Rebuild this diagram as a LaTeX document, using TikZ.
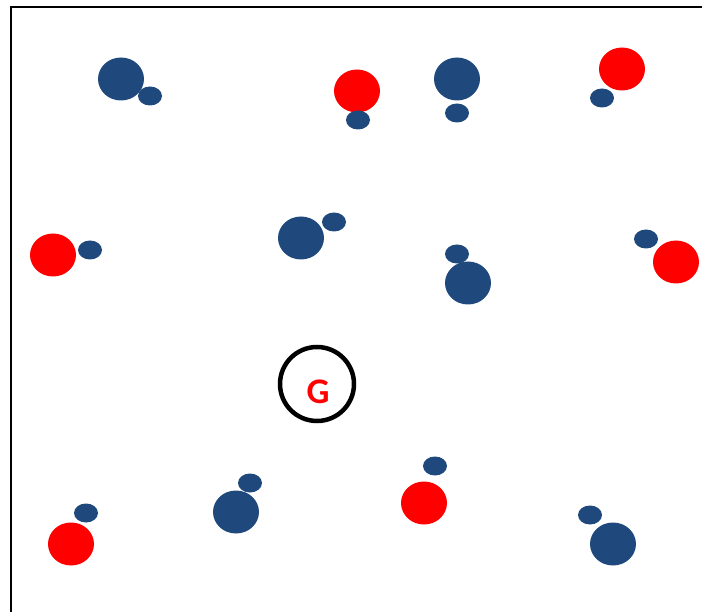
\documentclass[tikz,border=0pt]{standalone}
\usepackage{fontspec}
\newfontfamily\labelfont{Carlito}
\definecolor{pawn}{HTML}{1F497D}
\definecolor{target}{HTML}{FF0000}

\begin{document}
\begin{tikzpicture}[x=1pt,y=-1pt]
  \useasboundingbox (0,0) rectangle (702,612);
  % Frame
  \draw[line width=2.2pt] (11,620) -- (11,7) -- (710,7);
  % Blobs: colour/x/y of the big one, x/y of the small blue one
  \foreach \c/\x/\y/\u/\v in {pawn/121/79/150/96, target/357/91/358/120,
      pawn/457/79/457/113, target/622/69/602/98, target/53/255/90/250,
      pawn/301/238/334/222, pawn/468/283/457/254, target/676/262/646/239,
      target/71/544/86/513, pawn/236/512/250/483, target/424/503/435/466,
      pawn/613/544/590/515} {
    \fill[\c] (\x,\y) ellipse [x radius=23, y radius=21.5];
    \fill[pawn] (\u,\v) ellipse [x radius=12, y radius=9.5];
  }
  % Goal
  \node[draw, line width=4.5pt, circle, minimum size=74pt, inner sep=0pt] (goal) at (317,384) {};
  \node[text=target, inner sep=0pt, font=\labelfont\bfseries\fontsize{36}{36}\selectfont] (glabel) at (318,392) {G};
\end{tikzpicture}
\end{document}
